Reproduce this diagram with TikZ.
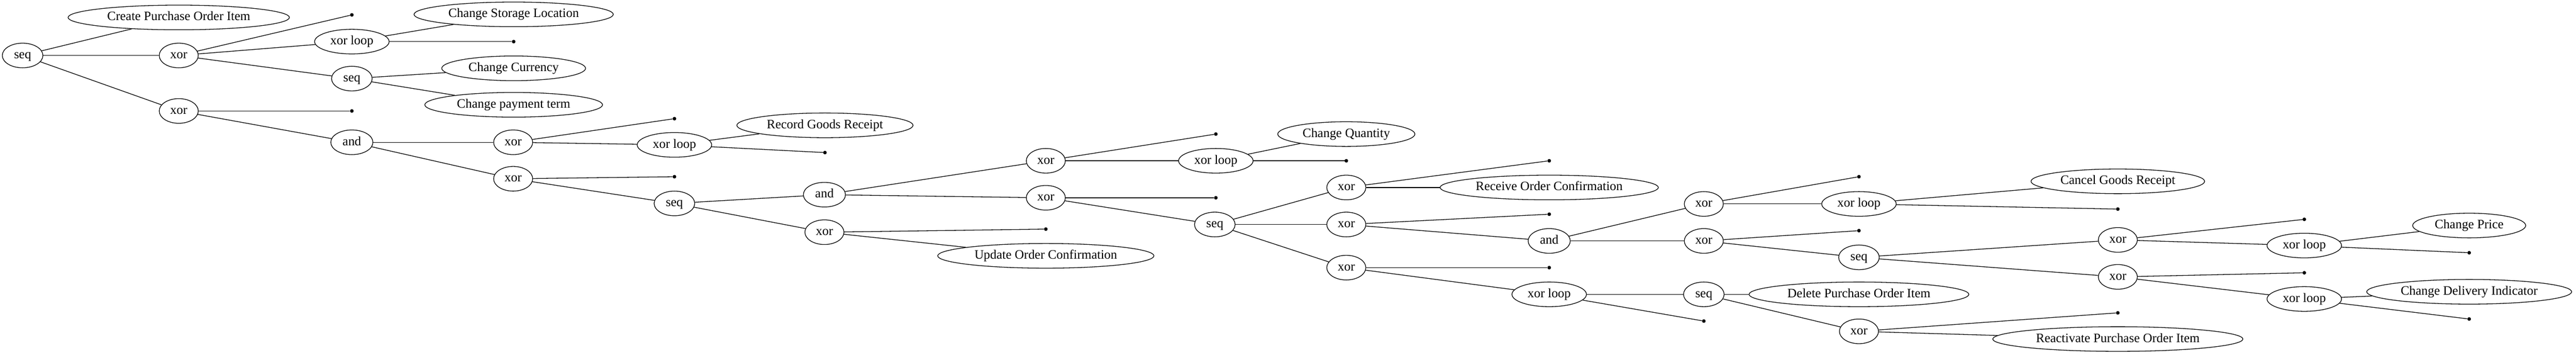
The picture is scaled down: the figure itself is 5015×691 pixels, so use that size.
\documentclass[tikz,border=0pt]{standalone}
\usepackage{fontspec}
\setmainfont{Liberation Serif}
\usetikzlibrary{shapes.geometric}
\tikzset{
  op/.style={ellipse, draw, line width=1.3pt, inner sep=0pt, minimum height=48pt,
    font=\fontsize{25}{29}\selectfont, text height=17pt, text depth=5pt},
  opx/.style={op, minimum width=76pt},
  opseq/.style={op, minimum width=79pt},
  opand/.style={op, minimum width=82pt},
  oploop/.style={op, minimum width=145pt},
  leaf/.style={op, minimum width=#1},
  tau/.style={circle, fill=black, inner sep=0pt, minimum size=7pt},
  edge/.style={line width=1.3pt}
}
\begin{document}
\begin{tikzpicture}[x=1pt, y=-1pt]
\useasboundingbox (0,0) rectangle (5015,691);
% rank 0-2
\node[opseq] (root) at (44,108) {seq};
\node[leaf=431pt] (cpoi) at (348,34) {Create Purchase Order Item};
\node[opx] (x1) at (348,108) {xor};
\node[opx] (x2) at (348,216) {xor};
\node[tau] (d1) at (685,29) {};
\node[oploop] (xl1) at (685,81) {xor loop};
\node[opseq] (s2) at (685,153) {seq};
\node[tau] (d2) at (685,216) {};
\node[opand] (a1) at (685,277) {and};
% rank 3
\node[leaf=388pt] (csl) at (1000,28) {Change Storage Location};
\node[tau] (dA) at (1000,81) {};
\node[leaf=280pt] (cc) at (1000,133) {Change Currency};
\node[leaf=346pt] (cpt) at (1000,204) {Change payment term};
\node[opx] (x3) at (999,277) {xor};
\node[opx] (x4) at (999,348) {xor};
% rank 4
\node[tau] (d3) at (1313,231) {};
\node[oploop] (xl2) at (1313,282) {xor loop};
\node[tau] (d5) at (1313,344) {};
\node[opseq] (s3) at (1313,396) {seq};
% rank 5
\node[leaf=343pt] (rgr) at (1606,244) {Record Goods Receipt};
\node[tau] (d4) at (1606,297) {};
\node[opand] (a2) at (1605,379) {and};
\node[opx] (x5) at (1605,452) {xor};
% rank 6
\node[opx] (x6) at (2036,313) {xor};
\node[opx] (x7) at (2036,385) {xor};
\node[tau] (d6) at (2036,446) {};
\node[leaf=421pt] (uoc) at (2036,498) {Update Order Confirmation};
% rank 7
\node[tau] (d7) at (2367,261) {};
\node[oploop] (xl3) at (2367,313) {xor loop};
\node[tau] (d8) at (2367,385) {};
\node[opseq] (s4) at (2365,437) {seq};
% rank 8
\node[leaf=267pt] (cq) at (2621,261) {Change Quantity};
\node[tau] (d9) at (2621,313) {};
\node[opx] (x8) at (2621,365) {xor};
\node[opx] (x9) at (2621,437) {xor};
\node[opx] (x10) at (2621,521) {xor};
% rank 9
\node[tau] (d10) at (3016,313) {};
\node[leaf=425pt] (roc) at (3016,365) {Receive Order Confirmation};
\node[tau] (d11) at (3016,417) {};
\node[opand] (a3) at (3016,469) {and};
\node[tau] (d12) at (3016,521) {};
\node[oploop] (xl4) at (3016,573) {xor loop};
% rank 10
\node[opx] (x11) at (3317,397) {xor};
\node[opx] (x12) at (3317,469) {xor};
\node[opseq] (s5) at (3317,573) {seq};
\node[tau] (d13) at (3317,625) {};
% rank 11
\node[tau] (d14) at (3619,344) {};
\node[oploop] (xl5) at (3619,397) {xor loop};
\node[tau] (d16) at (3619,449) {};
\node[opseq] (s6) at (3619,501) {seq};
\node[leaf=428pt] (dpoi) at (3619,573) {Delete Purchase Order Item};
\node[opx] (x13) at (3619,645) {xor};
% rank 12
\node[leaf=338pt] (cgr) at (4123,353) {Cancel Goods Receipt};
\node[tau] (d15) at (4123,407) {};
\node[opx] (x14) at (4123,467) {xor};
\node[opx] (x15) at (4123,539) {xor};
\node[tau] (d17) at (4123,609) {};
\node[leaf=487pt] (rpoi) at (4123,660) {Reactivate Purchase Order Item};
% rank 13
\node[tau] (d18) at (4486,427) {};
\node[oploop] (xl6) at (4486,478) {xor loop};
\node[tau] (d19) at (4486,531) {};
\node[oploop] (xl7) at (4486,582) {xor loop};
% rank 14
\node[leaf=220pt] (cp) at (4807,439) {Change Price};
\node[tau] (d20) at (4807,492) {};
\node[leaf=399pt] (cdi) at (4807,568) {Change Delivery Indicator};
\node[tau] (d21) at (4807,621) {};
% edges
\draw[edge] (root) -- (cpoi);
\draw[edge] (root) -- (x1);
\draw[edge] (root) -- (x2);
\draw[edge] (x1) -- (d1);
\draw[edge] (x1) -- (xl1);
\draw[edge] (x1) -- (s2);
\draw[edge] (xl1) -- (csl);
\draw[edge] (xl1) -- (dA);
\draw[edge] (s2) -- (cc);
\draw[edge] (s2) -- (cpt);
\draw[edge] (x2) -- (d2);
\draw[edge] (x2) -- (a1);
\draw[edge] (a1) -- (x3);
\draw[edge] (a1) -- (x4);
\draw[edge] (x3) -- (d3);
\draw[edge] (x3) -- (xl2);
\draw[edge] (xl2) -- (rgr);
\draw[edge] (xl2) -- (d4);
\draw[edge] (x4) -- (d5);
\draw[edge] (x4) -- (s3);
\draw[edge] (s3) -- (a2);
\draw[edge] (s3) -- (x5);
\draw[edge] (a2) -- (x6);
\draw[edge] (a2) -- (x7);
\draw[edge] (x5) -- (d6);
\draw[edge] (x5) -- (uoc);
\draw[edge] (x6) -- (d7);
\draw[edge] (x6) -- (xl3);
\draw[edge] (xl3) -- (cq);
\draw[edge] (xl3) -- (d9);
\draw[edge] (x7) -- (d8);
\draw[edge] (x7) -- (s4);
\draw[edge] (s4) -- (x8);
\draw[edge] (s4) -- (x9);
\draw[edge] (s4) -- (x10);
\draw[edge] (x8) -- (d10);
\draw[edge] (x8) -- (roc);
\draw[edge] (x9) -- (d11);
\draw[edge] (x9) -- (a3);
\draw[edge] (a3) -- (x11);
\draw[edge] (a3) -- (x12);
\draw[edge] (x11) -- (d14);
\draw[edge] (x11) -- (xl5);
\draw[edge] (xl5) -- (cgr);
\draw[edge] (xl5) -- (d15);
\draw[edge] (x12) -- (d16);
\draw[edge] (x12) -- (s6);
\draw[edge] (s6) -- (x14);
\draw[edge] (s6) -- (x15);
\draw[edge] (x14) -- (d18);
\draw[edge] (x14) -- (xl6);
\draw[edge] (xl6) -- (cp);
\draw[edge] (xl6) -- (d20);
\draw[edge] (x15) -- (d19);
\draw[edge] (x15) -- (xl7);
\draw[edge] (xl7) -- (cdi);
\draw[edge] (xl7) -- (d21);
\draw[edge] (x10) -- (d12);
\draw[edge] (x10) -- (xl4);
\draw[edge] (xl4) -- (s5);
\draw[edge] (xl4) -- (d13);
\draw[edge] (s5) -- (dpoi);
\draw[edge] (s5) -- (x13);
\draw[edge] (x13) -- (d17);
\draw[edge] (x13) -- (rpoi);
\end{tikzpicture}
\end{document}
